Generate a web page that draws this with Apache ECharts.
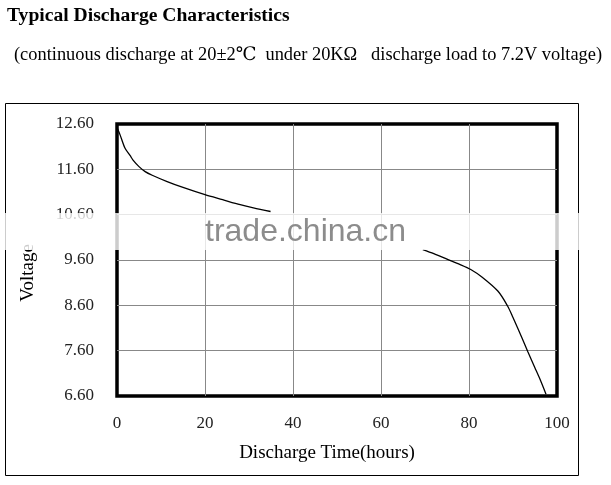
<!DOCTYPE html>
<html>
<head>
<meta charset="utf-8">
<script src="https://cdn.jsdelivr.net/npm/echarts@6/dist/echarts.min.js"></script>
<style>html,body{margin:0;padding:0;background:#fff}#c{width:611px;height:485px}</style>
</head>
<body>
<div id="c"></div>
<script>
// Discharge time (hours) and voltage (V); the section covered by the watermark is unknown (null)
const hours = [0, 0.7, 1.8, 3, 3.6, 5, 6.4, 8, 11.4, 15, 20, 24, 28, 31, 34.9,
               null,
               69.5, 72, 75, 78, 80.4, 83, 86.6, 88.8, 90, 92, 93.4, 95, 96, 97.5];
const volts = [12.52, 12.36, 12.07, 11.9, 11.81, 11.66, 11.55, 11.47, 11.33, 11.2, 11.04, 10.93, 10.82, 10.75, 10.67,
               null,
               9.83, 9.74, 9.62, 9.5, 9.39, 9.22, 8.91, 8.58, 8.33, 7.89, 7.57, 7.22, 7.0, 6.64];
const xTicks = [0, 20, 40, 60, 80, 100];
const yTicks = [6.6, 7.6, 8.6, 9.6, 10.6, 11.6, 12.6];

const titleText = 'Typical Discharge Characteristics';
const subtitleText = '(continuous discharge at 20±2℃  under 20KΩ   discharge load to 7.2V voltage)';
const xName = 'Discharge Time(hours)';
const yName = 'Voltage';
const watermark = 'trade.china.cn';

const serif = '"Liberation Serif", "DejaVu Serif", "Noto Sans CJK SC", serif';
const points = hours.map((h, i) => [h, volts[i]]);

const chart = echarts.init(document.getElementById('c'));
chart.setOption({
  animation: false,
  backgroundColor: '#fff',
  grid: { left: 117, right: 54, top: 124, bottom: 89, show: true, borderColor: '#000', borderWidth: 3.5, backgroundColor: 'transparent' },
  xAxis: {
    type: 'value', min: xTicks[0], max: xTicks[xTicks.length - 1], interval: 20,
    axisLine: { show: false }, axisTick: { show: false },
    axisLabel: { margin: 19, fontFamily: serif, fontSize: 17, color: '#222' },
    splitLine: { show: true, showMinLine: false, showMaxLine: false, lineStyle: { color: '#888', width: 1 } }
  },
  yAxis: {
    type: 'value', min: yTicks[0], max: yTicks[yTicks.length - 1], interval: 1,
    axisLine: { show: false }, axisTick: { show: false },
    axisLabel: { margin: 23, fontFamily: serif, fontSize: 17, color: '#222', formatter: v => v.toFixed(2) },
    splitLine: { show: true, showMinLine: false, showMaxLine: false, lineStyle: { color: '#888', width: 1 } }
  },
  series: [{
    type: 'line', data: points, smooth: 0.3, showSymbol: false, connectNulls: false,
    lineStyle: { color: '#000', width: 1.3 }
  }],
  graphic: [
    { type: 'text', left: 7, top: 6, style: { text: titleText, font: 'bold 19.6px ' + serif, fill: '#000' } },
    { type: 'text', left: 14, top: 46, style: { text: subtitleText, font: '18.4px ' + serif, fill: '#000' } },
    { type: 'rect', shape: { x: 5.5, y: 103.5, width: 573, height: 372 }, style: { fill: 'none', stroke: '#000', lineWidth: 1 }, z: 10 },
    { type: 'text', x: 327, y: 453, style: { text: xName, font: '19px ' + serif, fill: '#000', align: 'center', verticalAlign: 'middle' } },
    { type: 'text', x: 28, y: 273, rotation: Math.PI / 2, style: { text: yName, font: '19px ' + serif, fill: '#000', align: 'center', verticalAlign: 'middle' } },
    { type: 'rect', shape: { x: 0, y: 213, width: 611, height: 37 }, style: { fill: 'rgba(255,255,255,0.8)' }, z: 20 },
    { type: 'text', x: 205, y: 232, style: { text: watermark, font: '32px "Liberation Sans", Arial, sans-serif', fill: 'rgba(120,120,120,0.85)', verticalAlign: 'middle' }, z: 21 }
  ]
});
</script>
</body>
</html>
